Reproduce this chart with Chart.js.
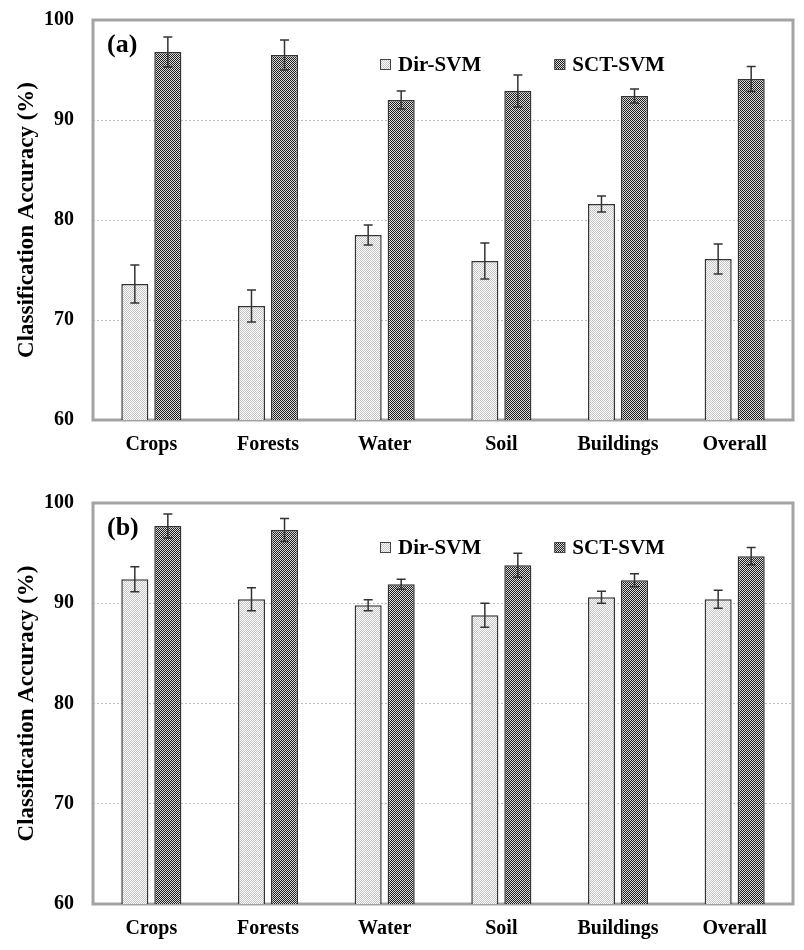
<!DOCTYPE html>
<html>
<head>
<meta charset="utf-8">
<script src="https://cdn.jsdelivr.net/npm/chart.js@4.4.1/dist/chart.umd.min.js"></script>
<style>
  html, body { margin: 0; padding: 0; background: #fff; }
  #wrapA { position: absolute; left: 0; top: 0; width: 804px; height: 483px; }
  #wrapB { position: absolute; left: 0; top: 483px; width: 804px; height: 467px; }
</style>
</head>
<body>
<div id="wrapA"><canvas id="chartA"></canvas></div>
<div id="wrapB"><canvas id="chartB"></canvas></div>
<script>
var categories = ['Crops', 'Forests', 'Water', 'Soil', 'Buildings', 'Overall'];
var seriesNames = ['Dir-SVM', 'SCT-SVM'];
var yTicks = [60, 70, 80, 90, 100];

// panel (a)
var dirA = [73.6, 71.4, 78.5, 75.9, 81.6, 76.1];
var dirAErr = [1.9, 1.6, 1.0, 1.8, 0.8, 1.5];
var sctA = [96.8, 96.5, 92.0, 92.9, 92.4, 94.1];
var sctAErr = [1.5, 1.5, 0.9, 1.6, 0.7, 1.25];

// panel (b)
var dirB = [92.4, 90.4, 89.8, 88.8, 90.6, 90.4];
var dirBErr = [1.25, 1.15, 0.55, 1.2, 0.6, 0.9];
var sctB = [97.7, 97.3, 91.9, 93.8, 92.3, 94.7];
var sctBErr = [1.2, 1.15, 0.5, 1.2, 0.65, 0.85];

var serif = '"Liberation Serif", "Times New Roman", serif';

// fill patterns like the original hatching
function checker(dark, light) {
  var c = document.createElement('canvas');
  c.width = 2; c.height = 2;
  var g = c.getContext('2d');
  g.fillStyle = light; g.fillRect(0, 0, 2, 2);
  g.fillStyle = dark; g.fillRect(0, 0, 1, 1); g.fillRect(1, 1, 1, 1);
  return g.createPattern(c, 'repeat');
}
var dirFill = checker('#c4c4c4', '#ffffff');
var sctFill = checker('#1e1e1e', '#dcdcdc');

// grey frame round the plot area
var frame = {
  id: 'frame',
  beforeDatasetsDraw: function(chart) {
    var a = chart.chartArea, ctx = chart.ctx;
    ctx.save();
    ctx.strokeStyle = '#a3a3a3';
    ctx.lineWidth = 3;
    ctx.strokeRect(a.left, a.top, a.right - a.left, a.bottom - a.top);
    ctx.restore();
  }
};

var errorBars = {
  id: 'errorBars',
  afterDatasetsDraw: function(chart) {
    var ctx = chart.ctx, y = chart.scales.y;
    chart.data.datasets.forEach(function(ds, i) {
      var meta = chart.getDatasetMeta(i);
      meta.data.forEach(function(bar, j) {
        var top = y.getPixelForValue(ds.data[j] + ds.errors[j]);
        var bot = y.getPixelForValue(ds.data[j] - ds.errors[j]);
        ctx.save();
        ctx.strokeStyle = '#333';
        ctx.lineWidth = 1.5;
        ctx.beginPath();
        ctx.moveTo(bar.x, top); ctx.lineTo(bar.x, bot);
        ctx.moveTo(bar.x - 4.5, top); ctx.lineTo(bar.x + 4.5, top);
        ctx.moveTo(bar.x - 4.5, bot); ctx.lineTo(bar.x + 4.5, bot);
        ctx.stroke();
        ctx.restore();
      });
    });
  }
};

// panel letter and in-plot legend
var decor = {
  id: 'decor',
  afterDraw: function(chart, args, opts) {
    var a = chart.chartArea, ctx = chart.ctx;
    ctx.save();
    ctx.textBaseline = 'middle';
    ctx.fillStyle = '#000';
    ctx.font = 'bold 26px ' + serif;
    ctx.fillText(opts.label, a.left + 14, a.top + 25);
    ctx.font = 'bold 21px ' + serif;
    chart.data.datasets.forEach(function(ds, i) {
      var bx = a.left + (a.right - a.left) * opts.legendX[i];
      var by = a.top + 45;
      ctx.fillStyle = ds.backgroundColor;
      ctx.fillRect(bx, by - 6, 11, 11);
      ctx.strokeStyle = '#444';
      ctx.lineWidth = 1;
      ctx.strokeRect(bx + 0.5, by - 5.5, 10, 10);
      ctx.fillStyle = '#000';
      ctx.fillText(ds.label, bx + 18, by + 1);
    });
    ctx.restore();
  }
};

function makeChart(id, label, dir, dirErr, sct, sctErr, xHeight) {
  return new Chart(document.getElementById(id), {
    type: 'bar',
    data: {
      labels: categories,
      datasets: [
        { label: seriesNames[0], data: dir, errors: dirErr, backgroundColor: dirFill,
          borderColor: '#333', borderWidth: 1.5, categoryPercentage: 0.566, barPercentage: 0.82 },
        { label: seriesNames[1], data: sct, errors: sctErr, backgroundColor: sctFill,
          borderColor: '#333', borderWidth: 1.5, categoryPercentage: 0.566, barPercentage: 0.82 }
      ]
    },
    options: {
      responsive: true,
      maintainAspectRatio: false,
      animation: false,
      layout: { padding: { top: 20, right: 11, left: 0, bottom: 0 } },
      plugins: {
        legend: { display: false },
        tooltip: { enabled: false },
        decor: { label: label, legendX: [0.41, 0.659] }
      },
      scales: {
        x: {
          grid: { display: false, drawTicks: false },
          border: { display: false },
          ticks: { color: '#000', padding: 13, font: { family: serif, weight: 'bold', size: 20 } },
          afterFit: function(s) { s.height = xHeight; }
        },
        y: {
          min: 60,
          max: 100,
          afterBuildTicks: function(s) { s.ticks = yTicks.map(function(v) { return { value: v }; }); },
          grid: {
            drawTicks: false,
            lineWidth: 1,
            color: function(c) { return (c.tick.value === 60 || c.tick.value === 100) ? 'rgba(0,0,0,0)' : '#bcbcbc'; }
          },
          border: { display: false, dash: [2, 2] },
          ticks: { color: '#000', padding: 19, font: { family: serif, weight: 'bold', size: 20 } },
          title: {
            display: true,
            text: 'Classification Accuracy (%)',
            color: '#000',
            padding: { top: 13, bottom: 0 },
            font: { family: serif, weight: 'bold', size: 23 }
          },
          afterFit: function(s) {
            s.width = 93;
            s.paddingTop = 0;
            s.paddingBottom = 0;
          }
        }
      }
    },
    plugins: [frame, errorBars, decor]
  });
}

makeChart('chartA', '(a)', dirA, dirAErr, sctA, sctAErr, 63);
makeChart('chartB', '(b)', dirB, dirBErr, sctB, sctBErr, 46);
</script>
</body>
</html>
